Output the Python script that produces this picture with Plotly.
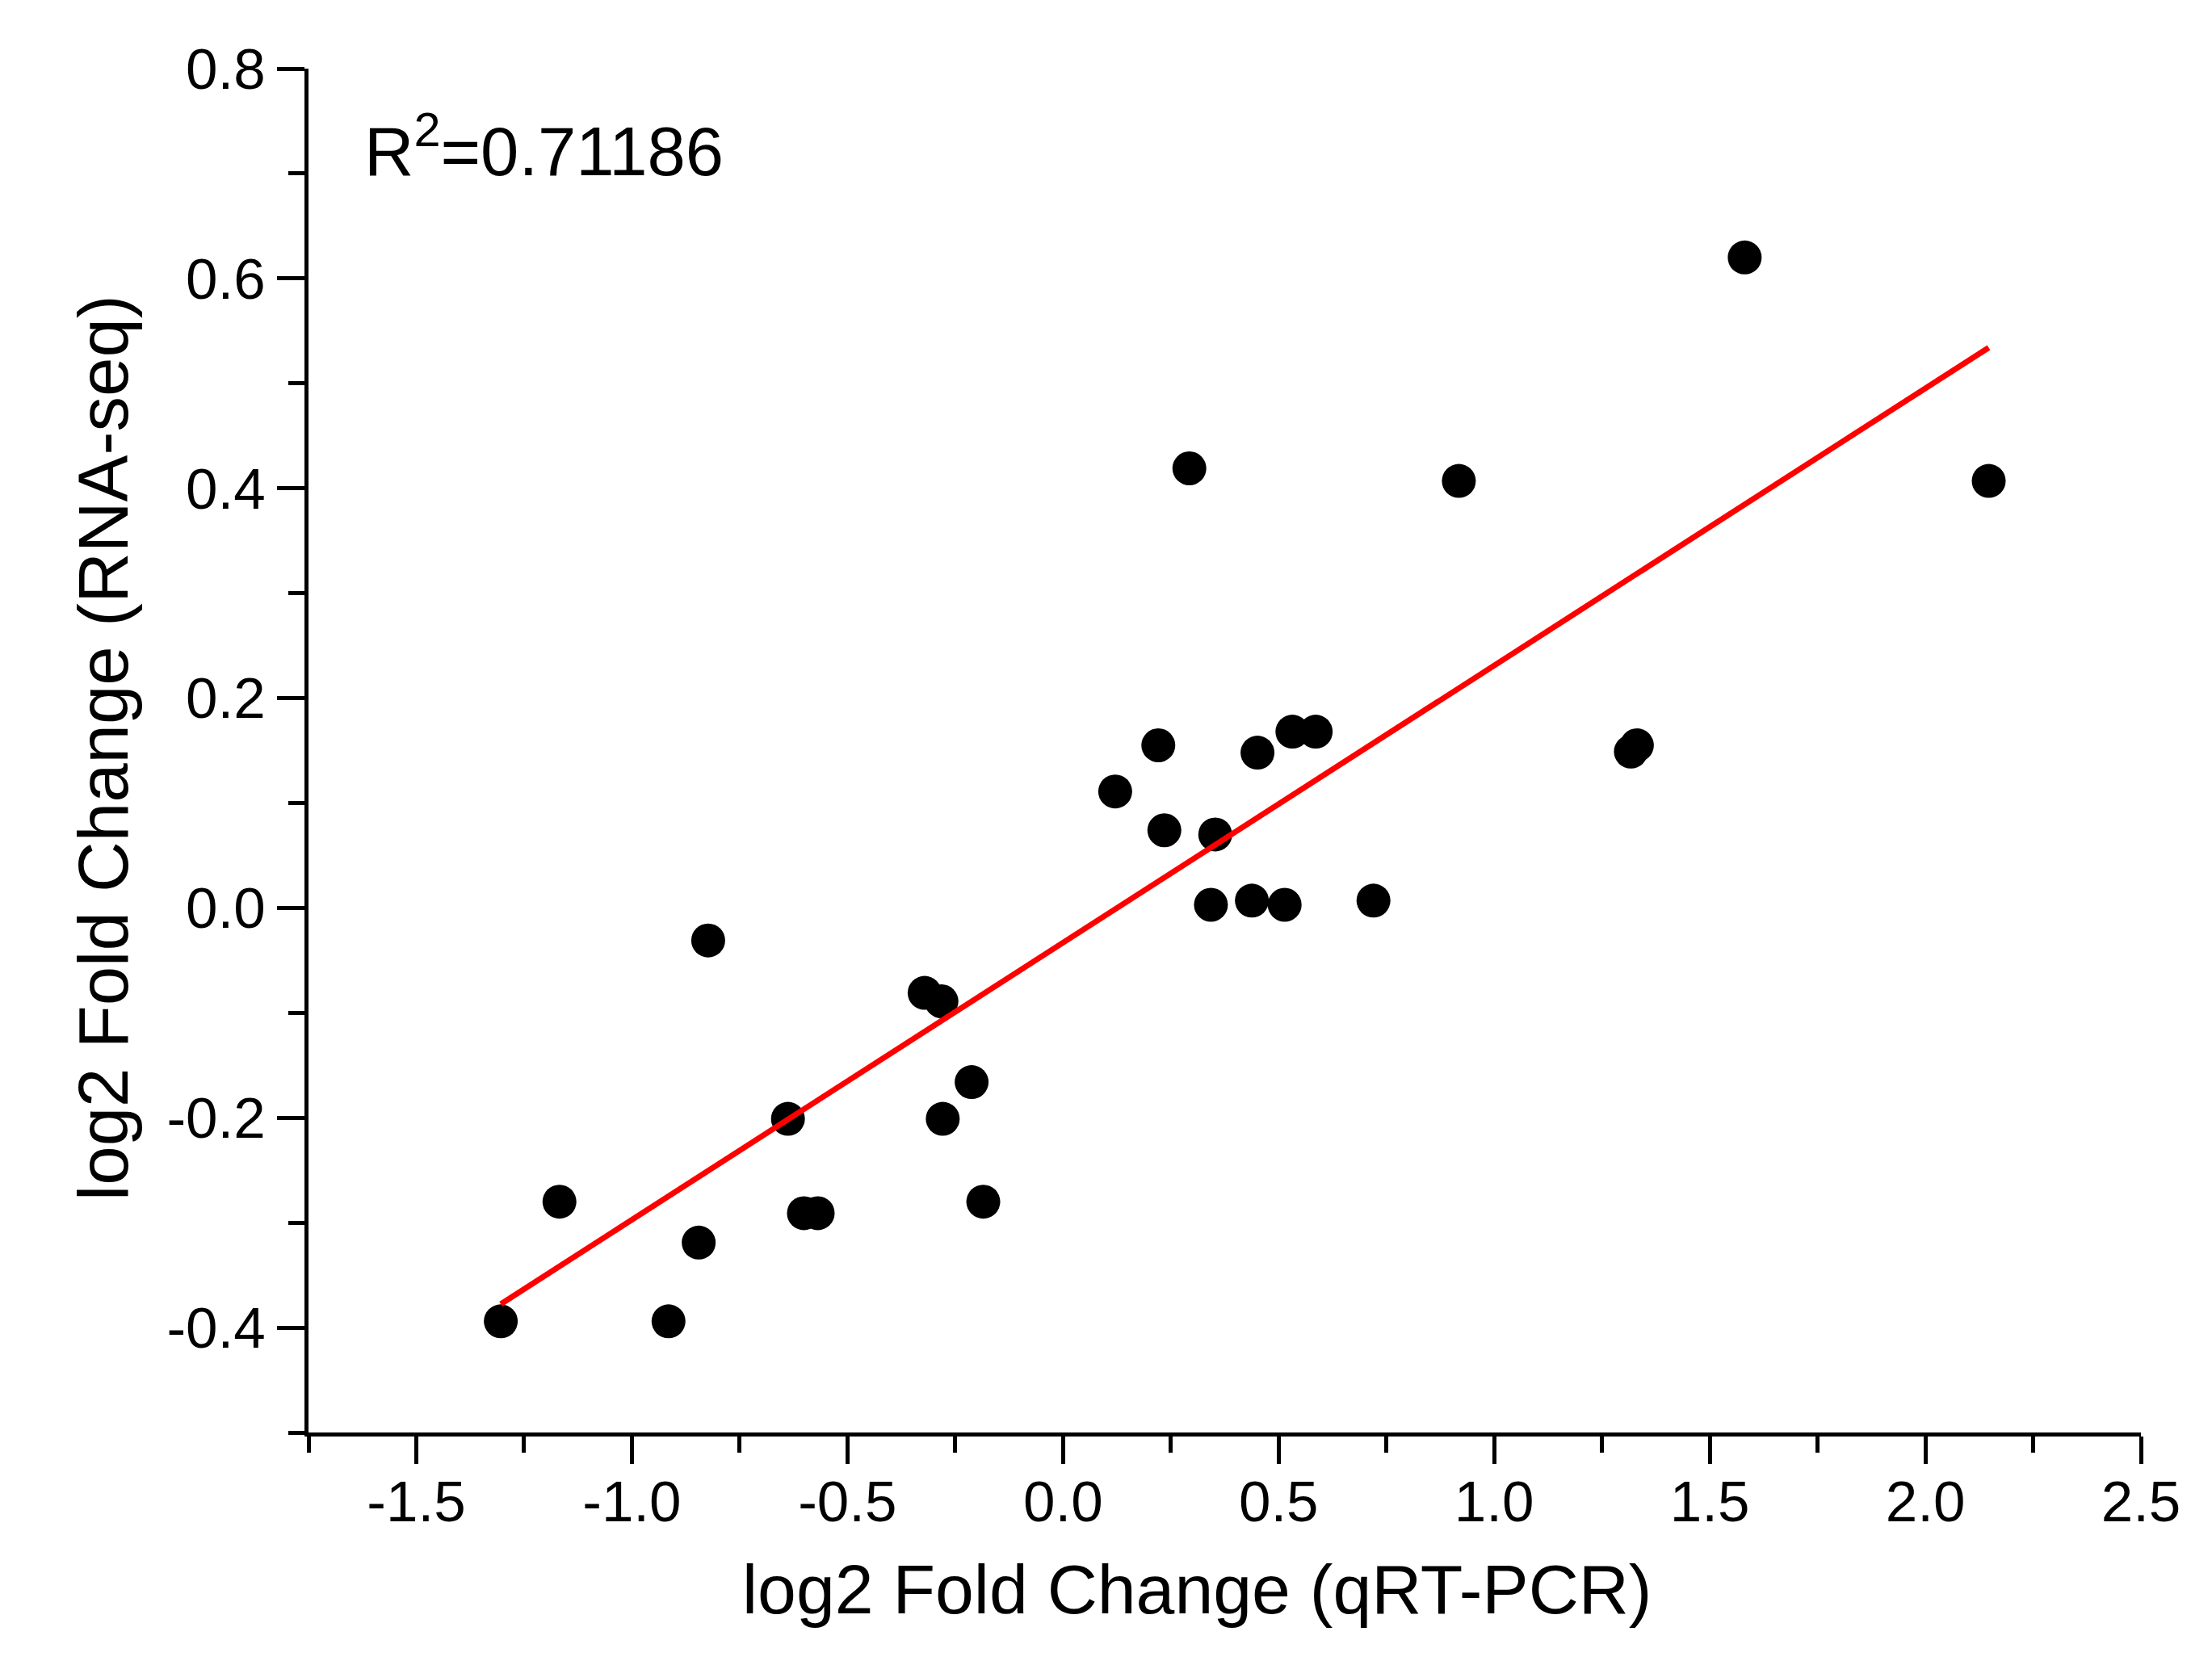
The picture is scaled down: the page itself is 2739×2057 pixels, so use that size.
import numpy as np
import plotly.graph_objects as go

# qRT-PCR log2 fold change (x) vs RNA-seq log2 fold change (y)
qpcr = [-1.304, -1.168, -0.915, -0.845, -0.823, -0.638, -0.601, -0.569, -0.321, -0.282,
        -0.279, -0.212, -0.185, 0.121, 0.221, 0.235, 0.293, 0.343, 0.353, 0.438,
        0.451, 0.514, 0.532, 0.586, 0.720, 0.918, 1.317, 1.331, 1.581, 2.147]
rnaseq = [-0.394, -0.280, -0.394, -0.319, -0.031, -0.201, -0.291, -0.291, -0.081, -0.089,
          -0.201, -0.166, -0.280, 0.111, 0.155, 0.074, 0.419, 0.003, 0.070, 0.007,
          0.148, 0.003, 0.168, 0.168, 0.007, 0.407, 0.149, 0.155, 0.620, 0.407]

r2_label = "R<sup>2</sup>=0.71186"
x_title = "log2 Fold Change (qRT-PCR)"
y_title = "log2 Fold Change (RNA-seq)"

x_tickvals = [-1.5, -1.0, -0.5, 0.0, 0.5, 1.0, 1.5, 2.0, 2.5]
x_ticktext = ["-1.5", "-1.0", "-0.5", "0.0", "0.5", "1.0", "1.5", "2.0", "2.5"]
y_tickvals = [-0.4, -0.2, 0.0, 0.2, 0.4, 0.6, 0.8]
y_ticktext = ["-0.4", "-0.2", "0.0", "0.2", "0.4", "0.6", "0.8"]

# linear fit through the points
xa = np.array(qpcr)
ya = np.array(rnaseq)
slope, intercept = np.polyfit(xa, ya, 1)
fit_x = [xa.min(), xa.max()]
fit_y = [slope * v + intercept for v in fit_x]

FONT = "Liberation Sans, Arial, sans-serif"

fig = go.Figure()
fig.add_trace(go.Scatter(
    x=qpcr, y=rnaseq, mode="markers",
    marker=dict(color="black", size=42, line=dict(width=0)),
    showlegend=False, cliponaxis=False,
))
fig.add_trace(go.Scatter(
    x=fit_x, y=fit_y, mode="lines",
    line=dict(color="#FF0000", width=7),
    showlegend=False,
))

axis_common = dict(
    showgrid=False, zeroline=False, showline=True, linecolor="black", linewidth=5,
    ticks="outside", ticklen=34, tickwidth=4.5, tickcolor="black",
    tickfont=dict(family=FONT, size=71, color="black"),
)

fig.update_xaxes(
    range=[-1.75, 2.5], tickvals=x_tickvals, ticktext=x_ticktext,
    minor=dict(ticks="outside", dtick=0.25, tick0=0, ticklen=20, tickwidth=4.5, tickcolor="black"),
    ticklabelstandoff=-14,
    **axis_common,
)
fig.update_yaxes(
    range=[-0.5, 0.8], tickvals=y_tickvals, ticktext=y_ticktext,
    minor=dict(ticks="outside", dtick=0.1, tick0=0, ticklen=20, tickwidth=4.5, tickcolor="black"),
    **axis_common,
)

fig.add_annotation(
    text=x_title, xref="paper", yref="paper", x=0.4848, y=-0.1149,
    xanchor="center", yanchor="middle", showarrow=False,
    font=dict(family=FONT, size=86, color="black"),
)
fig.add_annotation(
    text=y_title, xref="paper", yref="paper", x=-0.1124, y=0.502,
    xanchor="center", yanchor="middle", showarrow=False, textangle=-90,
    font=dict(family=FONT, size=87, color="black"),
)
fig.add_annotation(
    text=r2_label, xref="paper", yref="paper", x=0.0295, y=0.943,
    xanchor="left", yanchor="middle", showarrow=False,
    font=dict(family=FONT, size=85, color="black"),
)

fig.update_layout(
    width=2739, height=2057,
    margin=dict(l=374, r=96, t=77, b=291),
    plot_bgcolor="white", paper_bgcolor="white",
)

fig.write_html("out.html")
